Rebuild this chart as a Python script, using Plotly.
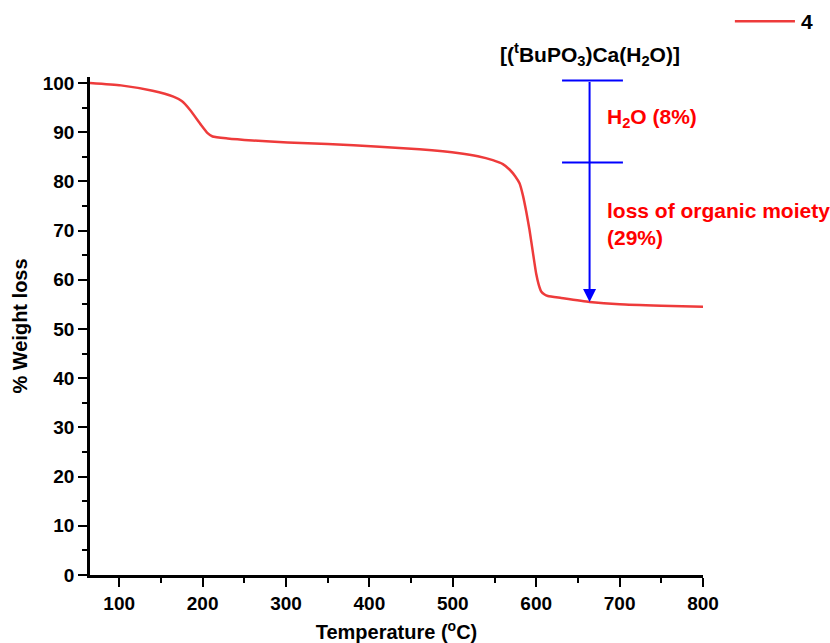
import plotly.graph_objects as go

# TGA curve of compound 4
temperature = [65, 102, 140, 165, 175, 185, 198, 206, 212, 230, 260, 302, 350, 412, 460, 508, 530, 548,
               560, 568, 575, 580, 584, 588, 592, 596, 600, 603, 606, 610, 614, 630, 664, 700, 750, 800]
weight = [100.0, 99.5, 98.4, 97.2, 96.3, 94.5, 91.5, 89.8, 89.1, 88.7, 88.3, 87.9, 87.6, 87.05, 86.5, 85.7,
          85.1, 84.3, 83.5, 82.4, 81.0, 79.6, 77.2, 73.9, 70.1, 65.6, 61.2, 59.0, 57.6, 57.0, 56.7, 56.3,
          55.5, 55.0, 54.7, 54.5]

# Annotated weight-loss steps (bracket)
step_x = 664
step_levels = [100.5, 83.8, 55.5]
bar_x = [631, 704]
step_labels = ["H<sub>2</sub>O (8%)", "loss of organic moiety<br>(29%)"]
step_label_y = [92.9, 71.4]
compound_label = "[(<sup>t</sup>BuPO<sub>3</sub>)Ca(H<sub>2</sub>O)]"
series_name = "4"

font_family = "Liberation Sans, Arial, sans-serif"
red_line = "#ee3b3b"
blue = "#0000ff"

fig = go.Figure()
fig.add_trace(go.Scatter(x=temperature, y=weight, mode="lines", name=series_name,
                         line=dict(color=red_line, width=2.5, shape="spline", smoothing=0.5),
                         showlegend=False))

# horizontal bars of the bracket
for lvl in step_levels[:2]:
    fig.add_trace(go.Scatter(x=bar_x, y=[lvl, lvl], mode="lines",
                             line=dict(color=blue, width=2), showlegend=False, hoverinfo="skip"))

# vertical arrow
fig.add_annotation(x=step_x, y=step_levels[2], ax=step_x, ay=step_levels[0],
                   xref="x", yref="y", axref="x", ayref="y", text="",
                   showarrow=True, arrowhead=2, arrowsize=1.3, arrowwidth=2, arrowcolor=blue)

for txt, ty in zip(step_labels, step_label_y):
    fig.add_annotation(x=683, y=ty, xref="x", yref="y", text=txt, showarrow=False,
                       xanchor="left", yanchor="middle", align="left",
                       font=dict(family=font_family, size=21, color="#ff0000", weight="bold"))

fig.add_annotation(x=step_x, y=1.046, xref="x", yref="paper", text=compound_label, showarrow=False,
                   xanchor="center", yanchor="middle",
                   font=dict(family=font_family, size=21, color="black", weight="bold"))

# legend (drawn manually to match the long sample line)
fig.add_shape(type="line", xref="paper", yref="paper", x0=1.052, x1=1.150, y0=1.112, y1=1.112,
              line=dict(color=red_line, width=2.5))
fig.add_annotation(x=1.157, y=1.112, xref="paper", yref="paper", text=series_name, showarrow=False,
                   xanchor="left", yanchor="middle",
                   font=dict(family=font_family, size=21, color="black", weight="bold"))

axis_common = dict(showline=True, linecolor="black", linewidth=2.5, ticks="outside", ticklen=9,
                   tickwidth=2, tickcolor="black", showgrid=False, zeroline=False, mirror=False,
                   automargin=False,
                   tickfont=dict(family=font_family, size=19, color="black", weight="bold"))

fig.update_xaxes(range=[65, 800], dtick=100, tick0=0,
                 minor=dict(dtick=50, tick0=0, ticks="outside", ticklen=5, tickwidth=2, tickcolor="black"),
                 title=dict(text="Temperature (<sup>o</sup>C)", standoff=14,
                            font=dict(family=font_family, size=20, color="black", weight="bold")),
                 **axis_common)
fig.update_yaxes(range=[0, 101.2], dtick=10, tick0=0,
                 minor=dict(dtick=5, tick0=0, ticks="outside", ticklen=5, tickwidth=2, tickcolor="black"),
                 title=dict(text="% Weight loss", standoff=10,
                            font=dict(family=font_family, size=20, color="black", weight="bold")),
                 **axis_common)

fig.update_layout(width=830, height=643, margin=dict(l=90, r=127, t=77, b=68),
                  plot_bgcolor="white", paper_bgcolor="white", showlegend=False,
                  font=dict(family=font_family))

fig.write_html("out.html")
